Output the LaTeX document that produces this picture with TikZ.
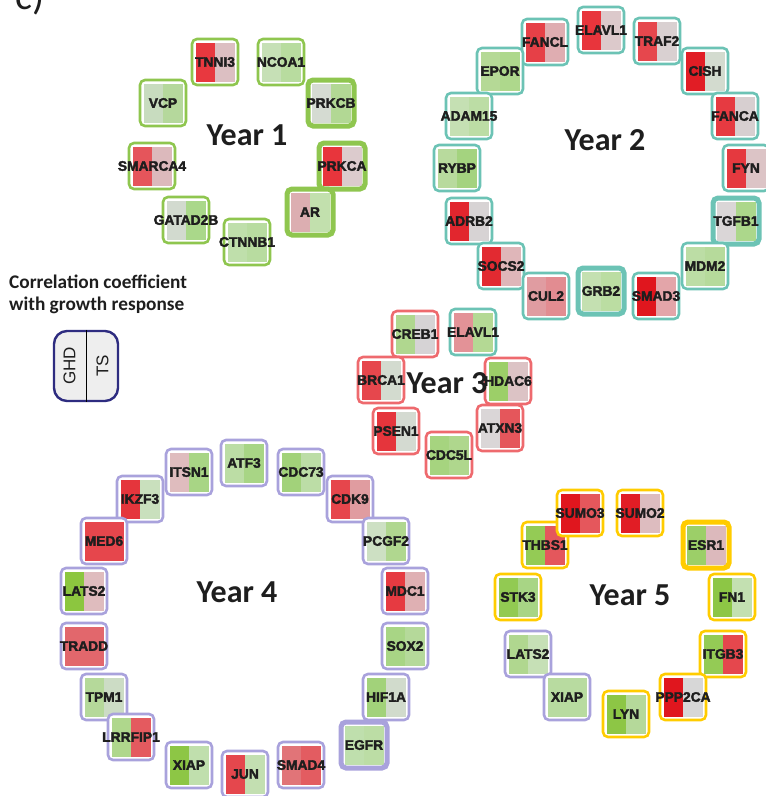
\documentclass[tikz,border=0pt]{standalone}
\usepackage{fontspec}
\setmainfont{Carlito}
\newfontfamily\lblfont{Liberation Sans Bold}[FakeBold=2.5]
\newfontfamily\legfont{Liberation Sans}
\usetikzlibrary{backgrounds}
\definecolor{yone}{HTML}{8FC64F}
\definecolor{ytwo}{HTML}{6CC3B5}
\definecolor{ythree}{HTML}{EE6A6E}
\definecolor{yfour}{HTML}{A9A2DC}
\definecolor{yfive}{HTML}{FFCC00}
\definecolor{navy}{HTML}{2E2C80}
\definecolor{legfill}{HTML}{EEEEEE}
\definecolor{edgecol}{HTML}{C6C6C6}
\definecolor{txt}{HTML}{1E1E1E}
\tikzset{
  gbox/.style={rectangle, rounded corners=5pt, fill=white, minimum width=46pt, minimum height=46pt, inner sep=0pt,
    font=\lblfont\fontsize{13.8}{13}\selectfont, text=txt},
  y1/.style={gbox, draw=yone, line width=2.6pt},
  y1t/.style={gbox, draw=yone, line width=5pt},
  y2/.style={gbox, draw=ytwo, line width=2.6pt},
  y2t/.style={gbox, draw=ytwo, line width=5pt},
  y3/.style={gbox, draw=ythree, line width=2.6pt},
  y4/.style={gbox, draw=yfour, line width=2.6pt},
  y4t/.style={gbox, draw=yfour, line width=5pt},
  y5/.style={gbox, draw=yfive, line width=2.6pt},
  y5t/.style={gbox, draw=yfive, line width=5pt},
  edge/.style={draw=edgecol, line width=0.4pt},
  yearlbl/.style={font=\bfseries\fontsize{32}{32}\selectfont, text=txt, inner sep=0pt}
}
% name, x, y, label, left colour, right colour, style
\newcommand{\gn}[7]{%
  \definecolor{tmpL}{HTML}{#5}\definecolor{tmpR}{HTML}{#6}%
  \node[#7, path picture={
      \fill[tmpL, sharp corners] ([shift={(-19.5pt,-19.5pt)}]path picture bounding box.center) rectangle ([shift={(0pt,19.5pt)}]path picture bounding box.center);
      \fill[tmpR, sharp corners] ([shift={(0pt,-19.5pt)}]path picture bounding box.center) rectangle ([shift={(19.5pt,19.5pt)}]path picture bounding box.center);
    }] (#1) at (#2,#3) {\makebox[0pt]{#4}};}
\begin{document}
\begin{tikzpicture}[x=1pt,y=-1pt]
\useasboundingbox[fill=white] (0,0) rectangle (766,796);

\node[anchor=base west, font=\fontsize{40}{40}\selectfont, text=txt, inner sep=0pt] (clbl) at (15,9) {c)};

% Year 1
\gn{TNNI3}{215}{62}{TNNI3}{E8383F}{DCBFC2}{y1}
\gn{NCOA1}{281}{62}{NCOA1}{C6E0B6}{B8DC9F}{y1}
\gn{VCP}{163}{103}{VCP}{C8DCBF}{B5D89C}{y1}
\gn{PRKCB}{331}{103}{PRKCB}{D5DBD2}{B2D894}{y1t}
\gn{SMARCA4}{152}{166}{SMARCA4}{E5555B}{DCB9BC}{y1}
\gn{PRKCA}{342}{166}{PRKCA}{E8353C}{DCCBCD}{y1t}
\gn{GATAD2B}{186}{220}{GATAD2B}{D2DACF}{AAD88A}{y1}
\gn{AR}{310}{212}{AR}{DCAEB1}{C2E0AD}{y1t}
\gn{CTNNB1}{247}{242}{CTNNB1}{BFDFAB}{B8DCA0}{y1}
\node[yearlbl] (yr1) at (247,135) {Year 1};

% Year 2
\gn{ELAVLa}{601}{30}{ELAVL1}{E8353C}{DCC9CB}{y2}
\gn{FANCL}{545}{42}{FANCL}{E64047}{DFADB1}{y2}
\gn{TRAF2}{657}{41}{TRAF2}{E6474D}{D9D0D1}{y2}
\gn{EPOR}{500}{71}{EPOR}{B5D996}{AED88C}{y2}
\gn{CISH}{705}{71}{CISH}{E11D25}{D3DBCF}{y2}
\gn{ADAM15}{469}{116}{ADAM15}{C5E0B3}{BCDDA5}{y2}
\gn{FANCA}{735}{116}{FANCA}{E63A41}{D7CFD0}{y2}
\gn{RYBP}{457}{168}{RYBP}{B8DA9D}{A4D37F}{y2}
\gn{FYN}{746}{168}{FYN}{E5393F}{DCC4C6}{y2}
\gn{ADRB2}{469}{221}{ADRB2}{E2262E}{D7D3D4}{y2}
\gn{TGFB1}{736}{221}{TGFB1}{DAD6D7}{ACD78B}{y2t}
\gn{SOCS2}{501}{266}{SOCS2}{E22A31}{DFB6B9}{y2}
\gn{MDM2}{705}{266}{MDM2}{BCDDA5}{B6DA9B}{y2}
\gn{CUL2}{546}{296}{CUL2}{E09CA1}{E28C91}{y2}
\gn{GRB2}{601}{291}{GRB2}{C4E0B1}{BBDDA2}{y2t}
\gn{SMAD3}{656}{296}{SMAD3}{E0161E}{E3A5A9}{y2}
\gn{ELAVLb}{473}{332}{ELAVL1}{E39297}{B4D994}{y2}
\node[yearlbl] (yr2) at (605,140) {Year 2};

% Year 3
\gn{CREB1}{415}{334}{CREB1}{B0D78F}{D6D3D5}{y3}
\gn{BRCA1}{381}{380}{BRCA1}{E6474D}{D3DBCF}{y3}
\gn{HDAC6}{508}{381}{HDAC6}{9CCF68}{DCC3C5}{y3}
\gn{PSEN1}{396}{431}{PSEN1}{E5353C}{D4DAD1}{y3}
\gn{ATXN3}{500}{428}{ATXN3}{DAD6D7}{E5565B}{y3}
\gn{CDC5L}{449}{455}{CDC5L}{A6D47F}{AFD78D}{y3}
\node[yearlbl] (yr3) at (447,383) {Year 3};

% Year 4
\gn{ITSN1}{189}{472}{ITSN1}{DFBCBE}{A8D585}{y4}
\gn{ATF3}{244}{463}{ATF3}{BCDDA5}{A8D585}{y4}
\gn{CDC73}{301}{472}{CDC73}{A2D27A}{BCDDA6}{y4}
\gn{IKZF3}{140}{499}{IKZF3}{E5353C}{C9E0BD}{y4}
\gn{CDK9}{350}{499}{CDK9}{E6464C}{E09CA0}{y4}
\gn{MED6}{104}{541}{MED6}{E6464C}{E6464C}{y4}
\gn{PCGF2}{386}{541}{PCGF2}{CDE0C3}{B0D78F}{y4}
\gn{LATSa}{84}{591}{LATS2}{8CC63F}{DFBCBE}{y4}
\gn{MDC1}{405}{591}{MDC1}{E63A41}{DFB0B3}{y4}
\gn{TRADD}{84}{646}{TRADD}{E2676C}{E2676C}{y4}
\gn{SOX2}{405}{646}{SOX2}{A8D585}{B5D99A}{y4}
\gn{TPM1}{104}{697}{TPM1}{B5D99A}{CCDCC5}{y4}
\gn{HIF1A}{386}{697}{HIF1A}{A2D27A}{D1DBCC}{y4}
\gn{LRRFIP1}{131}{737}{LRRFIP1}{AFD78C}{E45A5F}{y4}
\gn{EGFR}{364}{745}{EGFR}{BFDFAD}{BCDDA5}{y4t}
\gn{XIAPa}{189}{765}{XIAP}{8DC645}{C0DFAD}{y4}
\gn{JUN}{245}{774}{JUN}{E5474D}{C3DFB1}{y4}
\gn{SMAD4}{301}{765}{SMAD4}{E17478}{E35C61}{y4}
\node[yearlbl] (yr4) at (237,592) {Year 4};

% Year 5
\gn{THBS1}{545}{545}{THBS1}{94CB55}{E4575C}{y5}
\gn{SUMO3}{580}{513}{SUMO3}{E0161E}{E5575C}{y5}
\gn{SUMO2}{640}{513}{SUMO2}{E11D25}{DDBCBF}{y5}
\gn{ESR1}{706}{545}{ESR1}{9CCF68}{DCB9BC}{y5t}
\gn{STK3}{518}{597}{STK3}{92CA52}{A8D585}{y5}
\gn{FN1}{732}{597}{FN1}{8DC645}{C3E0B1}{y5}
\gn{LATSb}{528}{654}{LATS2}{B0D78F}{C6E0B6}{y4}
\gn{ITGB3}{723}{654}{ITGB3}{94CB55}{E5474D}{y5}
\gn{XIAPb}{567}{697}{XIAP}{B8DBA0}{B8DBA0}{y4}
\gn{PPP2CA}{683}{697}{PPP2CA}{E0161E}{D7D7D7}{y5}
\gn{LYN}{626}{714}{LYN}{8DC645}{B5D99A}{y5}
\node[yearlbl] (yr5) at (630,595) {Year 5};

% Legend
\node[anchor=north west, align=left, font=\bfseries\fontsize{19.3}{22}\selectfont, text=txt, inner sep=0pt] (legtitle) at (9,275) {Correlation coefficient\\with growth response};
\node[draw=navy, line width=2.4pt, rounded corners=13pt, fill=legfill, minimum width=64pt, minimum height=70pt, inner sep=0pt] (leg) at (86,366) {};
\draw[line width=1pt, black] (leg.north) -- (leg.south);
\node[rotate=90, font=\legfont\fontsize{17}{17}\selectfont, text=txt, inner sep=0pt] (ghd) at (69.5,366) {GHD};
\node[rotate=90, font=\legfont\fontsize{17}{17}\selectfont, text=txt, inner sep=0pt] (ts) at (102.5,366) {TS};

% free ends off the left edge
\coordinate (w1) at (0,250);
\coordinate (w2) at (0,330);
\coordinate (w3) at (0,420);
\coordinate (w4) at (0,470);
\coordinate (w5) at (0,300);

\begin{pgfonlayer}{background}
\foreach \a/\b in {TNNI3/CTNNB1, TNNI3/JUN, TNNI3/AR, NCOA1/AR, NCOA1/ESR1, NCOA1/CTNNB1, NCOA1/CREB1,
  VCP/AR, VCP/ATF3, VCP/CDC73, PRKCB/GATAD2B, PRKCB/GRB2, PRKCB/EGFR, PRKCB/FYN, PRKCB/SMAD4,
  SMARCA4/CTNNB1, SMARCA4/BRCA1, SMARCA4/JUN, PRKCA/ADRB2, PRKCA/EGFR, PRKCA/CDK9, PRKCA/ELAVLb,
  PRKCA/GRB2, PRKCA/LYN, GATAD2B/ATF3, GATAD2B/CDK9, AR/CREB1, AR/JUN, AR/EGFR, AR/ESR1, AR/HDAC6,
  AR/SMAD3, CTNNB1/JUN, CTNNB1/SMAD4, CTNNB1/CDC73, CTNNB1/TGFB1, CTNNB1/HIF1A, CTNNB1/ITSN1,
  ELAVLa/FANCL, FANCL/FANCA, FANCL/BRCA1, TRAF2/XIAPb, TRAF2/JUN, EPOR/GRB2, EPOR/CISH, EPOR/SOCS2,
  CISH/GRB2, CISH/SOCS2, ADAM15/ITSN1, ADAM15/ESR1, ADAM15/SOX2, RYBP/IKZF3, RYBP/MDM2, FANCA/BRCA1,
  FYN/PPP2CA, FYN/LYN, FYN/EGFR, ADRB2/ATF3, ADRB2/EGFR, ADRB2/SOX2, TGFB1/SMAD3, TGFB1/SMAD4,
  TGFB1/ESR1, TGFB1/FN1, TGFB1/ITGB3, TGFB1/THBS1, TGFB1/JUN, MDM2/JUN, MDM2/SUMO3, MDM2/ESR1,
  MDM2/HIF1A, SOCS2/EGFR, CUL2/SUMO2, CUL2/HIF1A, GRB2/EGFR, GRB2/ESR1, GRB2/PPP2CA, GRB2/LYN,
  GRB2/STK3, SMAD3/SMAD4, SMAD3/JUN, SMAD3/ESR1, SMAD3/FN1, ELAVLb/HDAC6,
  CREB1/JUN, CREB1/ATF3, CREB1/CDC73, BRCA1/JUN, BRCA1/CDK9, BRCA1/ESR1, BRCA1/MDC1, HDAC6/ESR1,
  HDAC6/SUMO2, HDAC6/HIF1A, HDAC6/XIAPb, PSEN1/EGFR, PSEN1/CTNNB1, ATXN3/SUMO3, ATXN3/ITGB3,
  CDC5L/LYN, CDC5L/CDK9, JUN/ATF3, JUN/CDC73, JUN/ITSN1, JUN/IKZF3, JUN/SMAD4, JUN/HIF1A, JUN/CDK9,
  JUN/PCGF2, EGFR/SOX2, EGFR/ITGB3, EGFR/LYN, EGFR/STK3, EGFR/THBS1, EGFR/ESR1, SMAD4/ESR1,
  SMAD4/SUMO3, HIF1A/ESR1, SOX2/THBS1, MDC1/SUMO3, TPM1/PCGF2, LATSa/STK3, MED6/CDK9, TRADD/JUN,
  LRRFIP1/CDK9, XIAPa/CDC73, XIAPa/PPP2CA, IKZF3/MDC1, ITSN1/EGFR, ESR1/FN1, ESR1/PPP2CA, FN1/ITGB3,
  THBS1/ITGB3, STK3/LATSb, SUMO3/SUMO2, LYN/ITGB3, XIAPb/PPP2CA, SUMO2/PPP2CA, THBS1/FN1, LATSb/XIAPb,
  w1/ADRB2, w2/HDAC6, w3/SUMO3, w4/CREB1, w5/SOCS2, w2/ATXN3, w1/ELAVLb}
  {\draw[edge] (\a) -- (\b);}
\end{pgfonlayer}
\end{tikzpicture}
\end{document}
